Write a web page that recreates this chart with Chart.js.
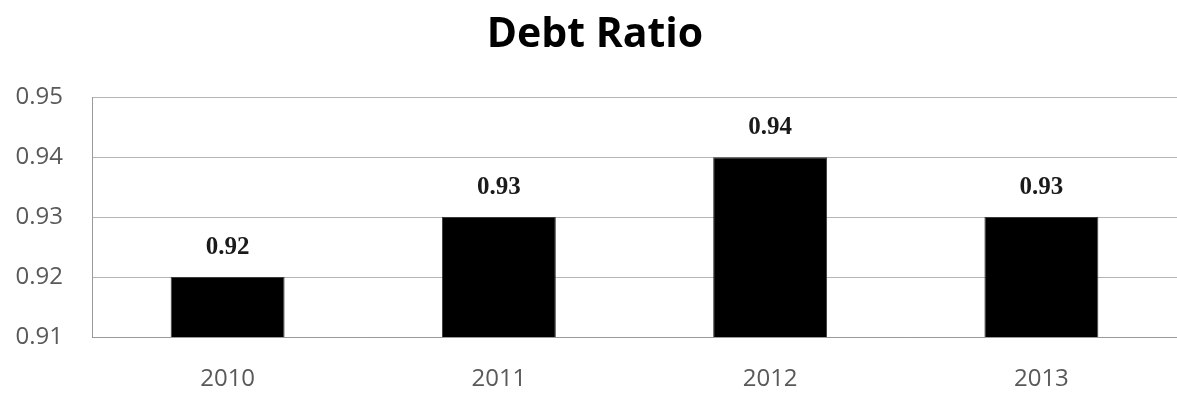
<!DOCTYPE html>
<html>
<head>
<meta charset="utf-8">
<title>Debt Ratio</title>
<script src="https://cdn.jsdelivr.net/npm/chart.js@4.4.1/dist/chart.umd.min.js"></script>
<style>
  html, body { margin: 0; padding: 0; background: #fff; }
  #wrap { width: 1177px; height: 394px; }
</style>
</head>
<body>
<div id="wrap"><canvas id="chartDebt" width="1177" height="394"></canvas></div>
<script>
// data
const years = ['2010', '2011', '2012', '2013'];
const debtRatio = [0.92, 0.93, 0.94, 0.93];
const yTicks = [0.91, 0.92, 0.93, 0.94, 0.95];

const GRID = '#b5b5b5';
const AXIS = '#9a9a9a';

// value labels above each bar
const barLabels = {
  id: 'barLabels',
  afterDatasetsDraw(chart) {
    const ctx = chart.ctx;
    const meta = chart.getDatasetMeta(0);
    ctx.save();
    ctx.font = 'bold 25px "Liberation Serif", "Times New Roman", serif';
    ctx.fillStyle = '#1a1a1a';
    ctx.textAlign = 'center';
    ctx.textBaseline = 'alphabetic';
    meta.data.forEach((bar, i) => {
      ctx.fillText(debtRatio[i].toFixed(2), bar.x, bar.y - 23);
    });
    ctx.restore();
  }
};

new Chart(document.getElementById('chartDebt'), {
  type: 'bar',
  data: {
    labels: years,
    datasets: [{
      label: 'Debt Ratio',
      data: debtRatio,
      backgroundColor: '#000',
      borderColor: '#3a3a3a',
      borderWidth: 1,
      barPercentage: 0.42,
      categoryPercentage: 1
    }]
  },
  options: {
    responsive: false,
    animation: false,
    events: [],
    // left padding nudges the title centre to the right, y axis is narrowed to match
    layout: { padding: { left: 13, right: 0, top: 0, bottom: 0 } },
    plugins: {
      legend: { display: false },
      tooltip: { enabled: false },
      title: {
        display: true,
        text: 'Debt Ratio',
        color: '#000',
        font: { family: '"Open Sans", sans-serif', size: 41, weight: 'bold', lineHeight: 1.2 },
        padding: { top: 11, bottom: 37 }
      }
    },
    scales: {
      x: {
        grid: { display: false, drawTicks: false },
        border: { display: true, color: AXIS, width: 1 },
        ticks: {
          color: '#595959',
          padding: 28,
          font: { family: '"Open Sans", sans-serif', size: 24 }
        },
        afterFit(scale) { scale.height = 57; }
      },
      y: {
        min: yTicks[0],
        max: yTicks[yTicks.length - 1],
        afterBuildTicks(scale) { scale.ticks = yTicks.map(v => ({ value: v })); },
        grid: { color: GRID, drawTicks: false },
        border: { display: true, color: AXIS, width: 1 },
        ticks: {
          color: '#595959',
          padding: 29,
          font: { family: '"Open Sans", sans-serif', size: 24 },
          callback: v => Number(v).toFixed(2)
        },
        afterFit(scale) { scale.width = 79; }
      }
    }
  },
  plugins: [barLabels]
});
</script>
</body>
</html>
